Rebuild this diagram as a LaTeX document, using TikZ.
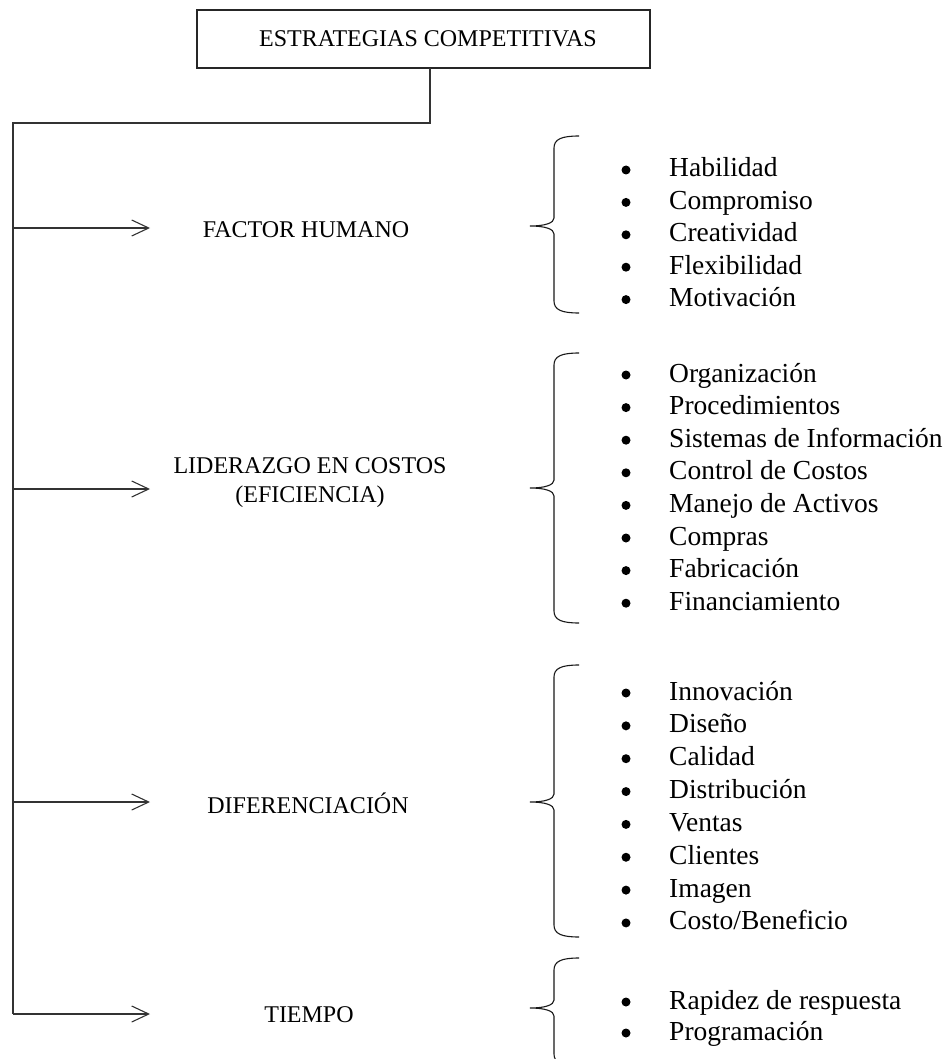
\documentclass[tikz,border=0pt]{standalone}
\usepackage{fontspec}
\setmainfont{Liberation Serif}
\usetikzlibrary{arrows.meta}

% left curly brace: top end, tip and bottom end (y values), spine at x=554
\newcommand\drawcurly[3]{%
  \draw[brace] (579,#1) .. controls (562,#1) and (554,{#1+3}) .. (554,{#1+12})
    -- (554,{#2-8}) .. controls (554,{#2-3}) and (545,#2) .. (530,#2)
    .. controls (545,#2) and (554,{#2+3}) .. (554,{#2+8})
    -- (554,{#3-12}) .. controls (554,{#3-3}) and (562,#3) .. (579,#3);}

\begin{document}
\begin{tikzpicture}[x=1pt,y=-1pt,
  conn/.style={line width=1.2pt, draw=black!80},
  branch/.style={conn, -{Straight Barb[length=17pt,width=16pt,line width=1.1pt]}},
  brace/.style={line width=1.1pt, draw=black!90},
  cat/.style={font=\fontsize{24}{29}\selectfont, inner sep=0pt, anchor=base},
  entry/.style={font=\fontsize{27.5}{32}\selectfont, anchor=base west, inner sep=0pt},
  dot/.style={circle, fill=black, inner sep=0pt, minimum size=9pt},
  titlebox/.style={draw=black!85, line width=1.2pt, minimum width=453pt,
    minimum height=58pt, inner sep=0pt}]

\useasboundingbox (0,0) rectangle (952,1059);

% title
\node[titlebox] (title) at (423.5,39) {};
\node[cat] (titletext) at (428,47) {ESTRATEGIAS COMPETITIVAS};

% trunk
\coordinate (stem0) at (430,68);
\coordinate (stem1) at (430,123);
\coordinate (spine0) at (13,123);
\coordinate (spine1) at (13,1014);
\draw[conn] (stem0) -- (stem1) -- (spine0) -- (spine1);

% branches
\foreach \n/\y in {fh/228, lc/489, df/802, ti/1014}{
  \coordinate (\n-from) at (13,\y);
  \coordinate (\n-to) at (150,\y);
  \draw[branch] (\n-from) -- (\n-to);
}

% category labels
\node[cat] (fh) at (306,237) {FACTOR HUMANO};
\node[cat] (lc1) at (310,473) {LIDERAZGO EN COSTOS};
\node[cat] (lc2) at (310,502) {(EFICIENCIA)};
\node[cat] (df) at (308,813) {DIFERENCIACIÓN};
\node[cat] (ti) at (309,1022) {TIEMPO};

% braces
\drawcurly{136}{226}{313}
\drawcurly{353}{488}{623}
\drawcurly{665}{802}{937}
\drawcurly{958}{1008}{1066}

% item lists
\foreach \t [count=\i] in {Habilidad, Compromiso, Creatividad, Flexibilidad, Motivación}{
  \node[dot] (fhd\i) at (626,{170+(\i-1)*32.4}) {};
  \node[entry] (fhi\i) at (669,{177+(\i-1)*32.4}) {\t};
}
\foreach \t [count=\i] in {Organización, Procedimientos, Sistemas de Información,
    Control de Costos, Manejo de Activos, Compras, Fabricación, Financiamiento}{
  \node[dot] (lcd\i) at (626,{375+(\i-1)*32.6}) {};
  \node[entry] (lci\i) at (669,{382+(\i-1)*32.6}) {\t};
}
\foreach \t [count=\i] in {Innovación, Diseño, Calidad, Distribución, Ventas,
    Clientes, Imagen, Costo/Beneficio}{
  \node[dot] (dfd\i) at (626,{693+(\i-1)*32.85}) {};
  \node[entry] (dfi\i) at (669,{700+(\i-1)*32.85}) {\t};
}
\foreach \t [count=\i] in {Rapidez de respuesta, Programación}{
  \node[dot] (tid\i) at (626,{1002+(\i-1)*31}) {};
  \node[entry] (tii\i) at (669,{1009+(\i-1)*31}) {\t};
}
\end{tikzpicture}
\end{document}
